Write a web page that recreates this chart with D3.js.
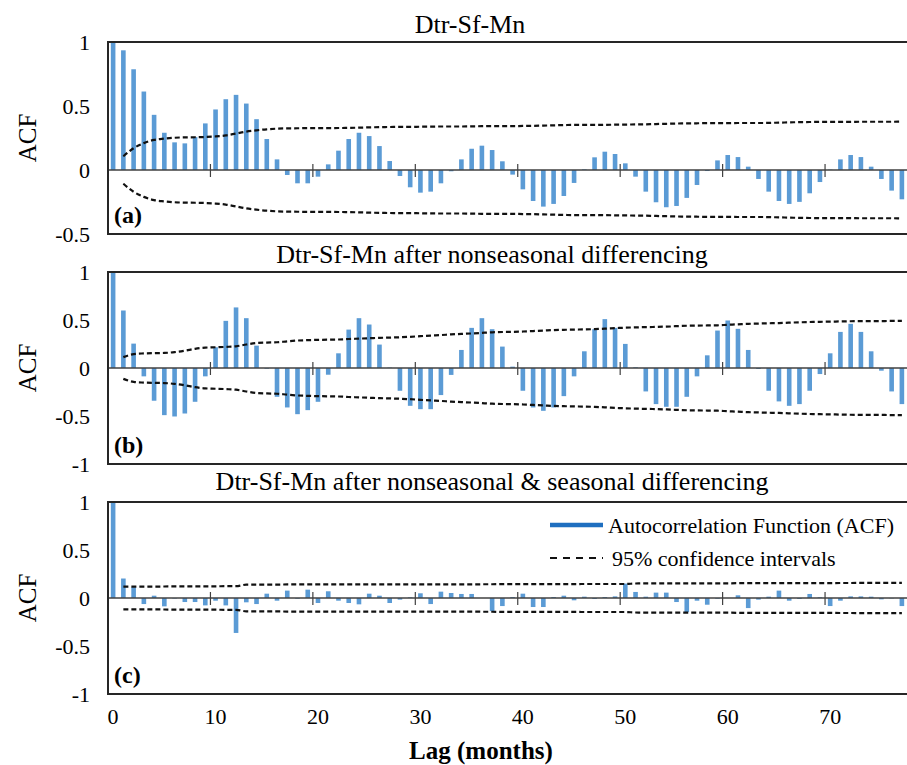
<!DOCTYPE html>
<html>
<head>
<meta charset="utf-8">
<title>ACF of Dtr-Sf-Mn</title>
<script src="https://d3js.org/d3.v7.min.js"></script>
<style>
    body { margin: 0; background: #fff; }
</style>
</head>
<body>
<div id="chart"></div>
<script>
// lags 0..77 (months)
const lags = d3.range(0, 78);
const xTickLabels = [0, 10, 20, 30, 40, 50, 60, 70];

const titles = [
    "Dtr-Sf-Mn",
    "Dtr-Sf-Mn after nonseasonal differencing",
    "Dtr-Sf-Mn after nonseasonal & seasonal differencing"
];
const panelLabels = ["(a)", "(b)", "(c)"];
const yTicksA = [1, 0.5, 0, -0.5];
const yTicksBC = [1, 0.5, 0, -0.5, -1];

// ACF values, lag 0..77
const acfRaw = [
    1.0, 0.935, 0.787, 0.613, 0.431, 0.291, 0.216, 0.208, 0.257, 0.364,
    0.473, 0.553, 0.587, 0.519, 0.397, 0.242, 0.083, -0.039, -0.104, -0.104,
    -0.052, 0.044, 0.151, 0.242, 0.291, 0.265, 0.187, 0.07, -0.047, -0.135,
    -0.177, -0.169, -0.104, -0.01, 0.083, 0.166, 0.19, 0.156, 0.068, -0.036,
    -0.151, -0.242, -0.286, -0.265, -0.203, -0.101, 0.005, 0.099, 0.143, 0.125,
    0.052, -0.052, -0.169, -0.252, -0.291, -0.281, -0.218, -0.117, -0.008, 0.075,
    0.117, 0.101, 0.026, -0.07, -0.169, -0.242, -0.265, -0.249, -0.182, -0.094,
    0.003, 0.083, 0.117, 0.101, 0.026, -0.07, -0.161, -0.229
];
const acfDiff = [
    1.0, 0.599, 0.254, -0.087, -0.341, -0.491, -0.505, -0.474, -0.352, -0.087,
    0.216, 0.491, 0.631, 0.519, 0.233, -0.007, -0.3, -0.411, -0.481, -0.439,
    -0.352, -0.07, 0.153, 0.4, 0.519, 0.453, 0.244, 0.004, -0.237, -0.394,
    -0.429, -0.429, -0.282, -0.072, 0.188, 0.418, 0.519, 0.404, 0.223, 0.014,
    -0.237, -0.411, -0.446, -0.411, -0.293, -0.087, 0.174, 0.404, 0.509, 0.418,
    0.251, 0.007, -0.244, -0.376, -0.404, -0.404, -0.3, -0.087, 0.132, 0.39,
    0.495, 0.408, 0.188, -0.01, -0.237, -0.348, -0.394, -0.376, -0.237, -0.063,
    0.153, 0.376, 0.46, 0.376, 0.174, -0.028, -0.244, -0.376
];
const acfSeasDiff = [
    1.0, 0.203, 0.112, -0.063, 0.024, -0.087, -0.005, -0.042, -0.042, -0.077,
    -0.028, -0.077, -0.364, -0.045, -0.063, 0.045, -0.028, 0.077, -0.007, 0.087,
    -0.052, 0.07, -0.028, -0.052, -0.066, 0.045, 0.024, -0.052, -0.017, 0.007,
    0.049, -0.063, 0.066, 0.052, 0.042, 0.042, 0.0, -0.136, -0.084, 0.01,
    0.045, -0.094, -0.094, 0.01, 0.024, -0.024, 0.014, -0.01, 0.01, 0.017,
    0.15, 0.063, 0.014, 0.056, 0.056, -0.042, -0.147, -0.028, -0.07, -0.007,
    0.0, 0.028, -0.105, -0.017, 0.014, 0.077, -0.028, -0.01, 0.042, 0.007,
    -0.084, -0.028, 0.017, 0.017, 0.014, -0.014, -0.004, -0.084
];

// 95% confidence bound (±), lag 1..77
const ciRaw = [
    0.107, 0.17, 0.21, 0.235, 0.245, 0.252, 0.255, 0.256, 0.258, 0.262,
    0.27, 0.285, 0.3, 0.31, 0.318, 0.323, 0.325, 0.326, 0.327, 0.327,
    0.327, 0.328, 0.329, 0.331, 0.333, 0.335, 0.336, 0.337, 0.337, 0.338,
    0.339, 0.34, 0.34, 0.34, 0.341, 0.342, 0.343, 0.343, 0.343, 0.344,
    0.345, 0.347, 0.349, 0.351, 0.352, 0.352, 0.352, 0.353, 0.354, 0.355,
    0.356, 0.357, 0.359, 0.361, 0.363, 0.364, 0.365, 0.366, 0.366, 0.366,
    0.367, 0.367, 0.367, 0.368, 0.37, 0.372, 0.374, 0.375, 0.376, 0.376,
    0.376, 0.376, 0.377, 0.377, 0.377, 0.377, 0.378
];
const ciDiff = [
    0.113, 0.145, 0.152, 0.155, 0.157, 0.165, 0.18, 0.2, 0.212, 0.216,
    0.22, 0.226, 0.245, 0.26, 0.265, 0.268, 0.278, 0.286, 0.29, 0.293,
    0.295, 0.297, 0.302, 0.306, 0.31, 0.314, 0.317, 0.32, 0.325, 0.332,
    0.338, 0.343, 0.35, 0.355, 0.36, 0.366, 0.372, 0.375, 0.377, 0.38,
    0.385, 0.39, 0.395, 0.398, 0.4, 0.402, 0.405, 0.41, 0.415, 0.42,
    0.423, 0.426, 0.428, 0.432, 0.436, 0.44, 0.442, 0.443, 0.445, 0.45,
    0.455, 0.46, 0.463, 0.466, 0.468, 0.472, 0.476, 0.479, 0.481, 0.483,
    0.485, 0.487, 0.488, 0.489, 0.489, 0.49, 0.49
];
const ciSeasDiff = [
    0.118, 0.118, 0.119, 0.119, 0.12, 0.121, 0.121, 0.122, 0.122, 0.122,
    0.123, 0.123, 0.139, 0.14, 0.14, 0.14, 0.141, 0.141, 0.141, 0.142,
    0.142, 0.142, 0.142, 0.142, 0.142, 0.142, 0.142, 0.142, 0.142, 0.142,
    0.142, 0.142, 0.142, 0.142, 0.142, 0.143, 0.143, 0.145, 0.145, 0.145,
    0.145, 0.145, 0.145, 0.145, 0.145, 0.146, 0.146, 0.146, 0.146, 0.146,
    0.151, 0.152, 0.152, 0.152, 0.152, 0.153, 0.153, 0.153, 0.153, 0.153,
    0.154, 0.154, 0.154, 0.154, 0.154, 0.155, 0.155, 0.155, 0.155, 0.155,
    0.156, 0.156, 0.157, 0.157, 0.157, 0.158, 0.158
];

const legendItems = ["Autocorrelation Function (ACF)", "95% confidence intervals"];

// ---- layout ----
const width = 907, height = 765;
const left = 108, right = 907;
const barColor = "#5b9bd5";
const serif = "'Liberation Serif'";

const svg = d3.select("#chart").append("svg")
    .attr("width", width)
    .attr("height", height);

// category axis: ticks fall between categories, labels on the category
const x = d3.scaleBand().domain(lags).range([left, right]);
const xBar = x.copy().paddingInner(0.55).paddingOuter(0.275);
const cx = d => x(d) + x.bandwidth() / 2;

const panels = [
    { acf: acfRaw, ci: ciRaw, ticks: yTicksA, top: 42, bottom: 234, titleX: 470, titleY: 33 },
    { acf: acfDiff, ci: ciDiff, ticks: yTicksBC, top: 272, bottom: 464, titleX: 492, titleY: 263 },
    { acf: acfSeasDiff, ci: ciSeasDiff, ticks: yTicksBC, top: 502, bottom: 694, titleX: 492, titleY: 490 }
];

panels.forEach((p, i) => {
    const y = d3.scaleLinear()
        .domain(d3.extent(p.ticks))
        .range([p.bottom, p.top]);
    const g = svg.append("g");

    g.append("text")
        .attr("x", p.titleX)
        .attr("y", p.titleY)
        .attr("text-anchor", "middle")
        .attr("font-size", 26)
        .text(titles[i]);

    // bars
    g.selectAll("rect.bar")
        .data(lags)
        .enter()
        .append("rect")
        .attr("class", "bar")
        .attr("x", d => xBar(d))
        .attr("width", xBar.bandwidth())
        .attr("y", d => y(Math.max(0, p.acf[d])))
        .attr("height", d => Math.abs(y(p.acf[d]) - y(0)))
        .attr("fill", barColor);

    // zero line + crossing tick marks
    g.append("line")
        .attr("x1", left).attr("x2", right + 20)
        .attr("y1", y(0)).attr("y2", y(0))
        .attr("stroke", "#404040")
        .attr("stroke-width", 1.5);
    g.selectAll("line.tick")
        .data(xTickLabels.slice(1))
        .enter()
        .append("line")
        .attr("class", "tick")
        .attr("x1", d => x(d)).attr("x2", d => x(d))
        .attr("y1", y(0) - 6).attr("y2", y(0) + 7)
        .attr("stroke", "#404040")
        .attr("stroke-width", 1.2);

    // confidence bounds
    const ciLags = lags.slice(1);
    [1, -1].forEach(sign => {
        const line = d3.line()
            .x(d => cx(d))
            .y(d => y(sign * p.ci[d - 1]))
            .curve(d3.curveMonotoneX);
        g.append("path")
            .datum(ciLags)
            .attr("d", line)
            .attr("fill", "none")
            .attr("stroke", "#111")
            .attr("stroke-width", 2.2)
            .attr("stroke-dasharray", "5,3");
    });

    // frame (right edge is outside the picture)
    g.append("rect")
        .attr("x", left)
        .attr("y", p.top)
        .attr("width", right + 20 - left)
        .attr("height", p.bottom - p.top)
        .attr("fill", "none")
        .attr("stroke", "#262626")
        .attr("stroke-width", 2);

    // y axis
    const yAxis = g.append("g")
        .attr("transform", `translate(${left},0)`)
        .call(d3.axisLeft(y).tickValues(p.ticks).tickSize(0).tickPadding(18)
            .tickFormat(d => String(d)));
    yAxis.attr("font-size", 22);
    yAxis.select(".domain").remove();

    g.append("text")
        .attr("transform", `translate(36,${(p.top + p.bottom) / 2}) rotate(-90)`)
        .attr("text-anchor", "middle")
        .attr("font-size", 25)
        .text("ACF");

    g.append("text")
        .attr("x", 114)
        .attr("y", p.bottom - 11)
        .attr("font-size", 24)
        .attr("font-weight", "bold")
        .text(panelLabels[i]);
});

// x axis labels under the last panel
const xAxis = svg.append("g")
    .attr("transform", `translate(0,${panels[2].bottom})`)
    .call(d3.axisBottom(x).tickValues(xTickLabels).tickSize(0).tickPadding(14));
xAxis.attr("font-size", 22);
xAxis.select(".domain").remove();

svg.append("text")
    .attr("x", 481)
    .attr("y", 759)
    .attr("text-anchor", "middle")
    .attr("font-size", 25)
    .attr("font-weight", "bold")
    .text("Lag (months)");

// legend inside panel (c)
const legend = svg.append("g");
legend.append("line")
    .attr("x1", 550).attr("x2", 603)
    .attr("y1", 525).attr("y2", 525)
    .attr("stroke", "#1f6fc0")
    .attr("stroke-width", 4.5);
legend.append("text")
    .attr("x", 608).attr("y", 533)
    .attr("font-size", 22)
    .text(legendItems[0]);
legend.append("line")
    .attr("x1", 550).attr("x2", 603)
    .attr("y1", 558).attr("y2", 558)
    .attr("stroke", "#111")
    .attr("stroke-width", 2)
    .attr("stroke-dasharray", "7,6");
legend.append("text")
    .attr("x", 612).attr("y", 566)
    .attr("font-size", 22)
    .text(legendItems[1]);

// all text in Times-like serif, black
svg.selectAll("text")
    .style("font-family", serif)
    .style("fill", "#000");
</script>
</body>
</html>
